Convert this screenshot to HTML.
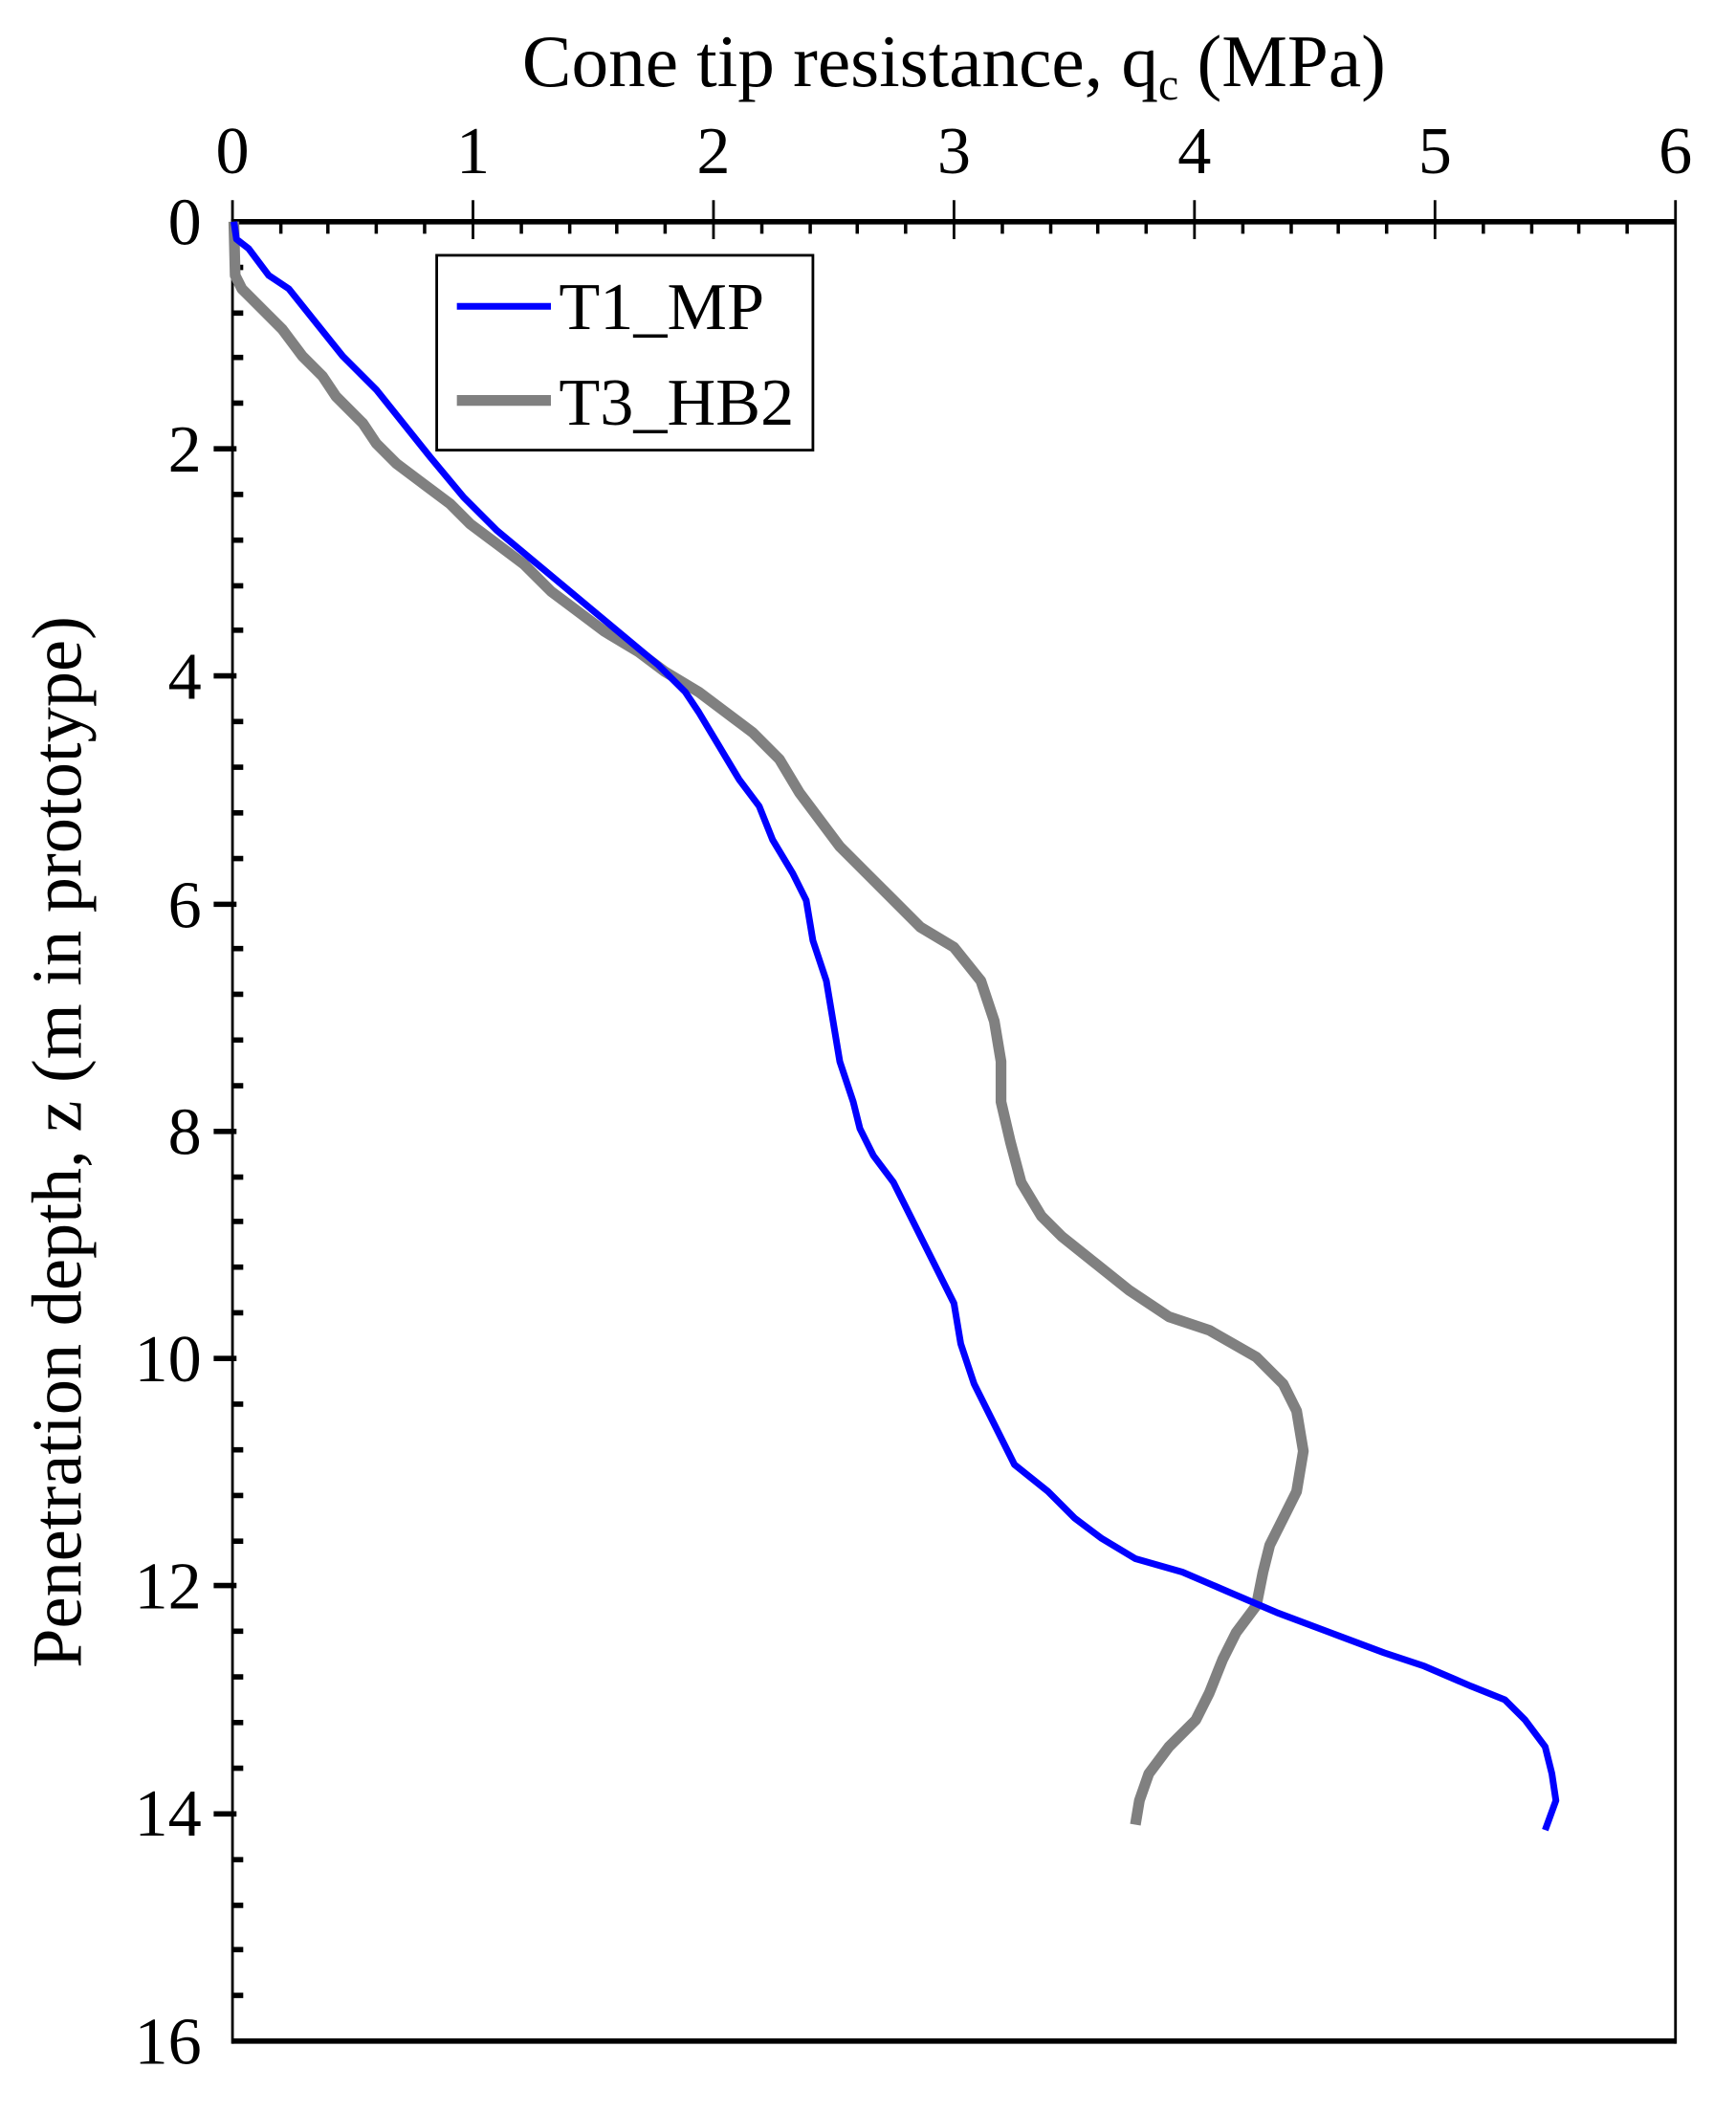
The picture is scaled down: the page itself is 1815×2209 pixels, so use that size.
<!DOCTYPE html>
<html><head><meta charset="utf-8"><style>html,body{margin:0;padding:0;background:#fff}</style></head>
<body>
<svg width="1815" height="2204" viewBox="0 0 1292 1569" xmlns="http://www.w3.org/2000/svg" font-family="Liberation Serif, serif">
<rect width="1292" height="1569" fill="#fff"/>
<text x="710" y="64" font-size="55" text-anchor="middle">Cone tip resistance,  q<tspan font-size="34" dy="10">c</tspan><tspan dy="-10"> (MPa)</tspan></text>
<g font-size="50" text-anchor="middle">
<text x="173" y="129">0</text><text x="352" y="129">1</text><text x="531" y="129">2</text><text x="710" y="129">3</text><text x="889" y="129">4</text><text x="1068" y="129">5</text><text x="1247" y="129">6</text>
</g>
<g font-size="50" text-anchor="end">
<text x="150" y="182">0</text><text x="150" y="351">2</text><text x="150" y="520">4</text><text x="150" y="690">6</text><text x="150" y="859">8</text><text x="150" y="1028">10</text><text x="150" y="1197">12</text><text x="150" y="1366">14</text><text x="150" y="1536">16</text>
</g>
<text transform="translate(60,850) rotate(-90)" font-size="53" text-anchor="middle">Penetration depth,  z (m in prototype)</text>
<g stroke="#000" fill="none">
<line x1="173" y1="165" x2="1247" y2="165" stroke-width="4"/>
<line x1="173" y1="1519" x2="1247" y2="1519" stroke-width="4"/>
<line x1="173" y1="163" x2="173" y2="1521" stroke-width="2"/>
<line x1="1247" y1="149" x2="1247" y2="1521" stroke-width="2"/>
<path stroke-width="2" d="M173 149V178M352 149V178M531 149V178M710 149V178M889 149V178M1068 149V178"/>
<path stroke-width="2.5" d="M209 165V174M244 165V174M280 165V174M316 165V174M388 165V174M424 165V174M459 165V174M495 165V174M567 165V174M603 165V174M638 165V174M674 165V174M746 165V174M782 165V174M817 165V174M853 165V174M925 165V174M961 165V174M996 165V174M1032 165V174M1104 165V174M1140 165V174M1175 165V174M1211 165V174"/>
<path stroke-width="4" d="M159 334H176M159 503H176M159 673H176M159 842H176M159 1011H176M159 1180H176M159 1350H176"/>
<path stroke-width="4" d="M173 199H181M173 233H181M173 266H181M173 300H181M173 368H181M173 402H181M173 436H181M173 469H181M173 537H181M173 571H181M173 605H181M173 639H181M173 706H181M173 740H181M173 774H181M173 808H181M173 876H181M173 909H181M173 943H181M173 977H181M173 1045H181M173 1079H181M173 1113H181M173 1147H181M173 1214H181M173 1248H181M173 1282H181M173 1316H181M173 1384H181M173 1418H181M173 1451H181M173 1485H181"/>
</g>
<polyline fill="none" stroke="#808080" stroke-width="8" stroke-linejoin="round" points="174,165 175,205 180,215 195,230 210,245 225,265 240,280 250,295 270,315 280,330 295,345 315,360 335,375 350,390 370,405 390,420 410,440 430,455 450,470 475,485 495,500 520,515 540,530 560,545 580,565 595,590 610,610 625,630 645,650 665,670 685,690 710,705 730,730 740,760 745,790 745,820 752,850 760,880 775,905 790,920 815,940 840,960 870,980 900,990 935,1010 955,1030 965,1050 970,1080 965,1110 955,1130 945,1150 940,1170 935,1195 920,1215 910,1235 900,1260 890,1280 870,1300 855,1320 848,1340 845,1358"/>
<polyline fill="none" stroke="#0000ff" stroke-width="5" stroke-linejoin="round" points="174,165 176,178 185,185 200,205 215,215 235,240 255,265 280,290 300,315 320,340 345,370 370,395 400,420 430,445 460,470 490,495 510,515 520,530 535,555 550,580 565,600 575,625 590,650 600,670 605,700 615,730 620,760 625,790 635,820 640,840 650,860 665,880 680,910 695,940 710,970 715,1000 725,1030 740,1060 755,1090 780,1110 800,1130 820,1145 845,1160 880,1170 915,1185 950,1200 990,1215 1030,1230 1060,1240 1095,1255 1120,1265 1135,1280 1150,1300 1155,1320 1158,1340 1150,1362"/>
<rect x="325" y="190" width="280" height="145" fill="#fff" stroke="#000" stroke-width="2"/>
<line x1="340" y1="228" x2="410" y2="228" stroke="#0000ff" stroke-width="5"/>
<line x1="340" y1="298" x2="410" y2="298" stroke="#808080" stroke-width="8"/>
<g font-size="50"><text x="416" y="245">T1_MP</text><text x="416" y="316">T3_HB2</text></g>
</svg>
</body></html>
